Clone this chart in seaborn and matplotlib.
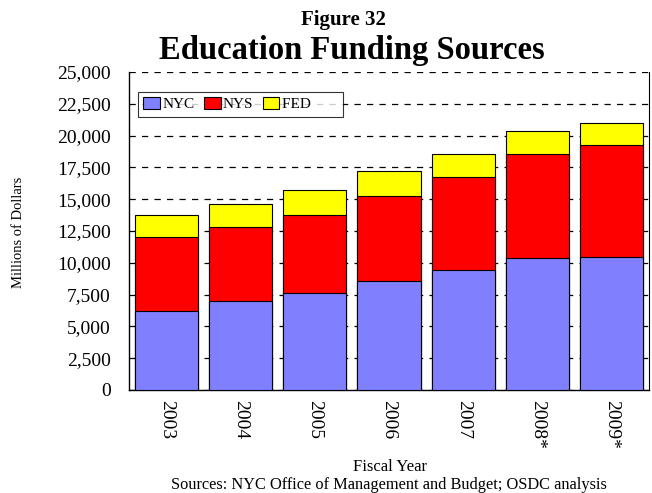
import pandas as pd
import numpy as np
import matplotlib
matplotlib.use("Agg")
import matplotlib.pyplot as plt
import matplotlib.patches as mpatches
import seaborn as sns

# data (millions of dollars)
years = ["2003", "2004", "2005", "2006", "2007", "2008*", "2009*"]
nyc = [6180, 7020, 7590, 8590, 9440, 10410, 10450]
nys = [5850, 5800, 6200, 6700, 7270, 8140, 8790]
fed = [1710, 1810, 1970, 1890, 1870, 1790, 1760]
y_ticks = list(range(0, 25001, 2500))

colors = {"NYC": "#8080FF", "NYS": "#FF0000", "FED": "#FFFF00"}

df = pd.DataFrame({"year": years, "NYC": nyc, "NYS": nys, "FED": fed})
df["nyc_nys"] = df["NYC"] + df["NYS"]
df["total"] = df["nyc_nys"] + df["FED"]

sns.set_style("white")
plt.rcParams["font.family"] = ["Liberation Serif", "DejaVu Serif"]
plt.rcParams["text.color"] = "black"
plt.rcParams["xtick.color"] = "black"
plt.rcParams["ytick.color"] = "black"
plt.rcParams["axes.labelcolor"] = "black"

fig = plt.figure(figsize=(6.52, 4.93), dpi=100)
ax = fig.add_axes([129 / 652, 1 - 390 / 493, 520 / 652, 318 / 493])

# stacked bars: draw cumulative totals back to front
for col, c in [("total", colors["FED"]), ("nyc_nys", colors["NYS"]), ("NYC", colors["NYC"])]:
    sns.barplot(data=df, x="year", y=col, color=c, saturation=1, width=0.85,
                edgecolor="black", linewidth=0.8, ax=ax, zorder=3)

ax.set_xlim(-0.5, 6.5)
ax.set_ylim(0, 25000)
ax.set_yticks(y_ticks)
ax.set_yticklabels([f"{v:,}" for v in y_ticks], fontsize=14)
ax.tick_params(axis="y", direction="out", length=7, width=1, color="black", pad=6)
ax.tick_params(axis="x", length=0, labelsize=14, pad=7)
plt.setp(ax.get_xticklabels(), rotation=270, va="top", ha="center")

ax.yaxis.grid(True, linestyle=(0, (5, 5)), color="black", linewidth=0.9, zorder=0)
ax.set_axisbelow(True)
for s in ["left", "bottom", "right"]:
    ax.spines[s].set_color("black")
    ax.spines[s].set_linewidth(1)
ax.spines["top"].set_visible(False)
ax.spines["right"].set_linewidth(0.8)

ax.set_xlabel("")
ax.set_ylabel("")

labels = ["NYC", "NYS", "FED" + "\u00a0" * 7]
handles = [mpatches.Patch(facecolor=colors[k], edgecolor="black", linewidth=0.8, label=lab)
           for k, lab in zip(["NYC", "NYS", "FED"], labels)]
leg = ax.legend(handles=handles, loc="upper left", bbox_to_anchor=(9 / 520, 298 / 318),
                ncol=3, fontsize=11, frameon=True, fancybox=False, shadow=False,
                handlelength=1.1, handleheight=0.75, handletextpad=0.15,
                columnspacing=0.6, borderpad=0.35, borderaxespad=0)
leg.get_frame().set_edgecolor("black")
leg.get_frame().set_linewidth(0.8)

fig.text(343 / 652, 1 - 20 / 493, "Figure 32", ha="center", va="center",
         fontsize=15, fontweight="bold")
fig.text(352 / 652, 1 - 50 / 493, "Education Funding Sources", ha="center", va="center",
         fontsize=23.5, fontweight="bold")
fig.text(19 / 652, 1 - 232 / 493, "Millions of Dollars", rotation=90,
         ha="center", va="center", fontsize=10.5)
fig.text(390 / 652, 1 - 467 / 493, "Fiscal Year", ha="center", va="center", fontsize=12)
fig.text(389 / 652, 1 - 485 / 493, "Sources: NYC Office of Management and Budget; OSDC analysis",
         ha="center", va="center", fontsize=11.8)

fig.savefig("out.png", dpi=100)
